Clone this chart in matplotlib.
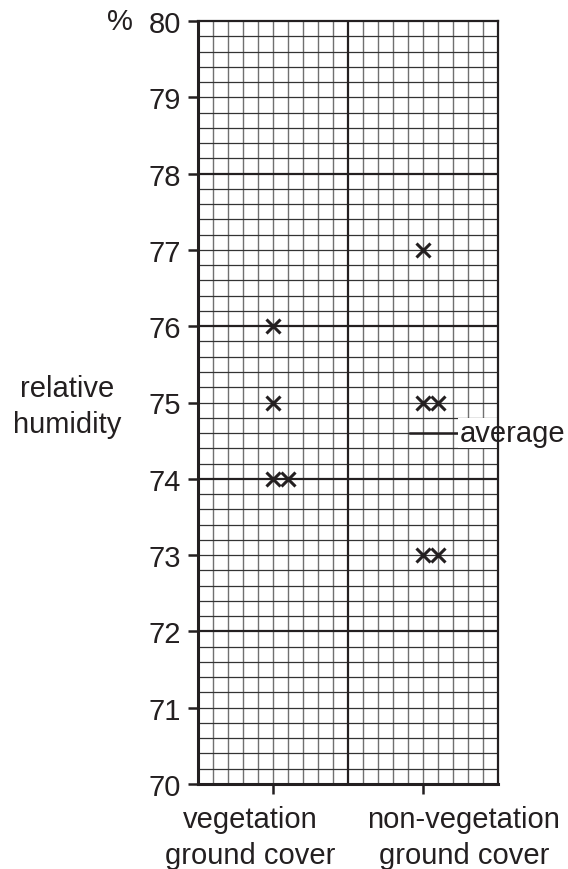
import numpy as np
import matplotlib
matplotlib.use('Agg')
import matplotlib.pyplot as plt

plt.rcParams['font.family'] = ['Liberation Sans', 'DejaVu Sans']

# Readings of relative humidity (%) for each ground cover type
categories = ['vegetation\nground cover', 'non-vegetation\nground cover']
vegetation = [76, 75, 74, 74]
non_vegetation = [77, 75, 75, 73, 73]
series = [vegetation, non_vegetation]
y_ticks = list(range(70, 81))

# grid layout: 20 small squares across, categories centred in each half
n_boxes = 20
cat_pos = [5, 15]
label_x = [250, 464]   # label centres in pixels, they sit off the ticks
FS = 21
INK = '#231f20'

fig = plt.figure(figsize=(5.68, 8.70), dpi=100)
ax = fig.add_axes([198 / 568, 1 - 785 / 870, 300 / 568, 763 / 870])
ax.set_xlim(0, n_boxes)
ax.set_ylim(70, 80)

# graph paper
for x in range(1, n_boxes):
    if x == n_boxes // 2:
        ax.axvline(x, color=INK, lw=1.6, zorder=2)
    else:
        ax.axvline(x, color='#707070', lw=1.0, zorder=1)
for y in np.arange(70.2, 80, 0.2):
    yr = round(y, 1)
    if abs(yr - round(yr)) < 1e-6 and int(round(yr)) % 2 == 0:
        ax.axhline(yr, color=INK, lw=1.6, zorder=2)
    else:
        ax.axhline(yr, color='#333333', lw=0.9, zorder=1)

# crosses, repeated values are placed one square to the right
for pos, vals in zip(cat_pos, series):
    seen = {}
    xs, ys = [], []
    for v in vals:
        k = seen.get(v, 0)
        seen[v] = k + 1
        xs.append(pos + k)
        ys.append(v)
    ax.plot(xs, ys, linestyle='none', marker='x', color=INK,
            markersize=9.5, markeredgewidth=2.2, zorder=4)

# average line for the non-vegetation readings
avg = np.mean(non_vegetation)
ax.plot([cat_pos[1] - 0.9, cat_pos[1] + 2.3], [avg, avg], color=INK, lw=1.8, zorder=4)
ax.text(cat_pos[1] + 2.45, avg, 'average', fontsize=FS, va='center', ha='left', color=INK,
        bbox=dict(facecolor='white', edgecolor='none', pad=1.0), zorder=5, clip_on=False)

ax.set_xticks(cat_pos)
ax.set_xticklabels([])
ax.set_yticks(y_ticks)
ax.set_yticklabels([str(t) for t in y_ticks], fontsize=FS, color=INK)
ax.tick_params(axis='both', direction='out', length=7.5, width=1.8, color=INK, pad=5)

for side, lw in [('left', 2.2), ('bottom', 2.2), ('top', 1.6), ('right', 1.6)]:
    ax.spines[side].set_linewidth(lw)
    ax.spines[side].set_color(INK)
    ax.spines[side].set_zorder(6)

for lx, lab in zip(label_x, categories):
    fig.text(lx / 568, 1 - 806 / 870, lab, fontsize=FS, ha='center', va='top',
             color=INK, linespacing=1.36)

fig.text(67 / 568, 1 - 407 / 870, 'relative\nhumidity', fontsize=FS, ha='center', va='center',
         color=INK, linespacing=1.36)
fig.text(120 / 568, 1 - 22 / 870, '%', fontsize=FS, ha='center', va='center', color=INK)

fig.savefig('out.png', dpi=100)
